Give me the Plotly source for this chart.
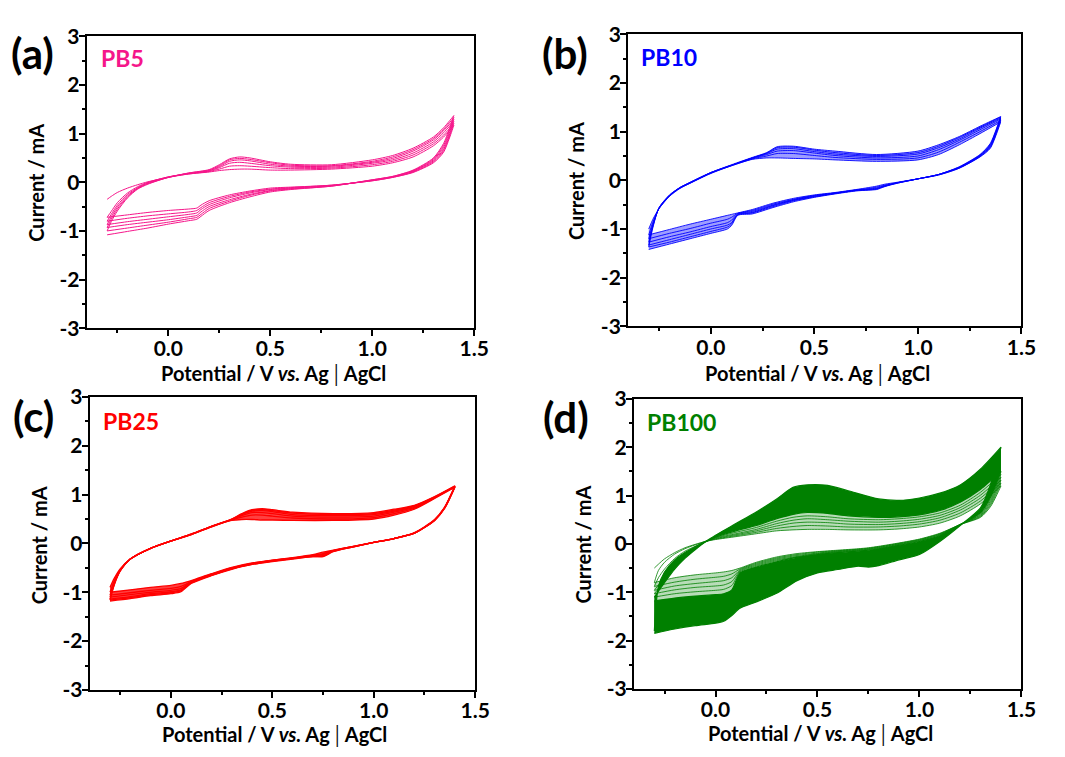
import plotly.graph_objects as go

# ---------------- data ----------------
# Panel (a) PB5
E_an_a = [-0.30,-0.28,-0.25,-0.20,-0.15,-0.10,0.00,0.10,0.20,0.25,0.30,0.35,0.40,0.50,0.60,0.80,1.00,1.10,1.20,1.30,1.35,1.40]
E_ca_a = [1.40,1.35,1.30,1.20,1.10,1.00,0.80,0.60,0.50,0.40,0.30,0.20,0.16,0.14,0.10,0.00,-0.10,-0.20,-0.30]
PB5_anodic = [
    [-0.35,-0.29,-0.21,-0.12,-0.05,0.01,0.10,0.17,0.21,0.24,0.26,0.27,0.27,0.25,0.25,0.27,0.33,0.40,0.52,0.75,0.93,1.17],
    [-0.72,-0.60,-0.42,-0.22,-0.09,0.00,0.11,0.17,0.22,0.27,0.33,0.34,0.33,0.30,0.28,0.29,0.36,0.43,0.56,0.79,0.97,1.21],
    [-0.80,-0.66,-0.47,-0.25,-0.11,-0.01,0.11,0.18,0.23,0.30,0.39,0.41,0.39,0.34,0.31,0.31,0.39,0.46,0.60,0.83,1.02,1.25],
    [-0.87,-0.71,-0.51,-0.28,-0.12,-0.02,0.10,0.18,0.24,0.32,0.43,0.46,0.44,0.37,0.33,0.33,0.41,0.49,0.64,0.87,1.06,1.29],
    [-0.93,-0.76,-0.55,-0.30,-0.13,-0.03,0.10,0.19,0.25,0.34,0.46,0.49,0.47,0.40,0.35,0.34,0.43,0.52,0.67,0.90,1.09,1.33],
    [-1.00,-0.81,-0.59,-0.32,-0.14,-0.04,0.10,0.19,0.26,0.36,0.48,0.52,0.50,0.42,0.37,0.36,0.46,0.55,0.70,0.93,1.12,1.37],
]
PB5_cathodic = [
    [1.17,0.62,0.40,0.20,0.10,0.03,-0.06,-0.10,-0.12,-0.18,-0.26,-0.38,-0.47,-0.53,-0.55,-0.58,-0.62,-0.67,-0.72],
    [1.21,0.65,0.42,0.21,0.10,0.03,-0.06,-0.11,-0.14,-0.20,-0.29,-0.42,-0.52,-0.58,-0.61,-0.65,-0.69,-0.74,-0.80],
    [1.25,0.68,0.44,0.22,0.11,0.04,-0.07,-0.12,-0.15,-0.22,-0.32,-0.46,-0.56,-0.63,-0.66,-0.71,-0.76,-0.81,-0.87],
    [1.29,0.72,0.46,0.23,0.11,0.04,-0.07,-0.13,-0.17,-0.25,-0.36,-0.50,-0.61,-0.68,-0.71,-0.77,-0.82,-0.87,-0.93],
    [1.33,0.76,0.48,0.24,0.12,0.05,-0.08,-0.14,-0.18,-0.27,-0.39,-0.54,-0.66,-0.72,-0.75,-0.82,-0.88,-0.94,-1.00],
    [1.37,0.80,0.50,0.25,0.12,0.05,-0.08,-0.15,-0.20,-0.30,-0.42,-0.58,-0.70,-0.76,-0.79,-0.86,-0.94,-1.01,-1.08],
]

# Panel (b) PB10
E_an_b = [-0.30,-0.28,-0.25,-0.20,-0.15,-0.10,0.00,0.10,0.20,0.27,0.32,0.40,0.50,0.60,0.80,1.00,1.10,1.20,1.30,1.40]
E_ca_b = [1.40,1.35,1.30,1.20,1.10,1.00,0.90,0.84,0.80,0.76,0.70,0.60,0.50,0.40,0.30,0.20,0.13,0.10,0.08,0.00,-0.10,-0.20,-0.30]
PB10_anodic = [
    [-1.00,-0.80,-0.58,-0.33,-0.17,-0.06,0.14,0.30,0.43,0.46,0.46,0.45,0.44,0.42,0.39,0.42,0.53,0.73,0.96,1.20],
    [-1.12,-0.86,-0.58,-0.32,-0.16,-0.06,0.15,0.30,0.44,0.50,0.55,0.55,0.51,0.47,0.43,0.46,0.58,0.78,1.00,1.23],
    [-1.20,-0.90,-0.57,-0.32,-0.16,-0.05,0.15,0.31,0.45,0.53,0.60,0.61,0.56,0.51,0.46,0.50,0.63,0.82,1.04,1.26],
    [-1.27,-0.93,-0.57,-0.31,-0.15,-0.05,0.16,0.31,0.46,0.55,0.64,0.65,0.59,0.54,0.49,0.54,0.67,0.85,1.07,1.28],
    [-1.33,-0.95,-0.56,-0.31,-0.15,-0.04,0.16,0.31,0.46,0.56,0.67,0.68,0.62,0.57,0.51,0.57,0.70,0.88,1.09,1.30],
    [-1.37,-0.97,-0.56,-0.30,-0.15,-0.04,0.16,0.32,0.47,0.57,0.69,0.70,0.64,0.60,0.53,0.60,0.73,0.90,1.11,1.31],
]
PB10_cathodic = [
    [1.20,0.66,0.48,0.25,0.11,0.03,-0.04,-0.08,-0.12,-0.15,-0.19,-0.25,-0.30,-0.37,-0.47,-0.60,-0.67,-0.70,-0.72,-0.80,-0.90,-1.01,-1.12],
    [1.23,0.68,0.49,0.25,0.11,0.03,-0.05,-0.10,-0.14,-0.17,-0.20,-0.26,-0.31,-0.39,-0.49,-0.62,-0.68,-0.76,-0.80,-0.88,-0.99,-1.09,-1.20],
    [1.26,0.70,0.50,0.26,0.12,0.03,-0.05,-0.11,-0.16,-0.18,-0.20,-0.26,-0.32,-0.40,-0.51,-0.64,-0.69,-0.82,-0.87,-0.95,-1.06,-1.16,-1.27],
    [1.28,0.72,0.51,0.27,0.12,0.03,-0.05,-0.12,-0.17,-0.19,-0.21,-0.27,-0.33,-0.41,-0.52,-0.66,-0.70,-0.87,-0.92,-1.00,-1.11,-1.22,-1.33],
    [1.30,0.74,0.52,0.27,0.12,0.03,-0.06,-0.12,-0.18,-0.20,-0.21,-0.27,-0.34,-0.42,-0.54,-0.67,-0.71,-0.90,-0.96,-1.05,-1.16,-1.27,-1.37],
    [1.31,0.76,0.53,0.28,0.12,0.03,-0.06,-0.13,-0.19,-0.20,-0.22,-0.28,-0.35,-0.44,-0.56,-0.69,-0.72,-0.93,-1.00,-1.09,-1.20,-1.31,-1.42],
]

# Panel (c) PB25
E_an_c = [-0.30,-0.28,-0.25,-0.20,-0.10,0.00,0.10,0.20,0.30,0.35,0.40,0.45,0.50,0.60,0.80,1.00,1.10,1.20,1.30,1.40]
E_ca_c = [1.40,1.35,1.30,1.20,1.10,1.00,0.90,0.80,0.75,0.70,0.60,0.50,0.40,0.30,0.20,0.10,0.05,0.00,-0.10,-0.20,-0.30]
PB25_anodic = [
    [-0.90,-0.72,-0.52,-0.32,-0.10,0.05,0.18,0.34,0.47,0.49,0.49,0.48,0.48,0.47,0.47,0.50,0.58,0.70,0.92,1.15],
    [-1.00,-0.78,-0.54,-0.32,-0.10,0.05,0.18,0.34,0.48,0.54,0.58,0.58,0.56,0.52,0.50,0.53,0.61,0.72,0.93,1.16],
    [-1.06,-0.81,-0.55,-0.32,-0.10,0.05,0.18,0.35,0.49,0.57,0.63,0.63,0.61,0.56,0.54,0.56,0.64,0.74,0.94,1.16],
    [-1.10,-0.83,-0.56,-0.32,-0.10,0.05,0.19,0.35,0.49,0.59,0.66,0.67,0.65,0.59,0.57,0.59,0.66,0.76,0.95,1.17],
    [-1.14,-0.85,-0.56,-0.32,-0.10,0.05,0.19,0.35,0.50,0.60,0.68,0.69,0.67,0.62,0.59,0.61,0.68,0.77,0.95,1.17],
    [-1.16,-0.86,-0.57,-0.32,-0.10,0.05,0.19,0.35,0.50,0.61,0.69,0.71,0.69,0.64,0.61,0.63,0.70,0.78,0.96,1.18],
]
PB25_cathodic = [
    [1.15,0.72,0.47,0.21,0.10,0.02,-0.06,-0.14,-0.18,-0.23,-0.29,-0.34,-0.40,-0.49,-0.62,-0.76,-0.82,-0.86,-0.90,-0.95,-1.00],
    [1.16,0.73,0.47,0.21,0.10,0.02,-0.06,-0.15,-0.21,-0.24,-0.30,-0.35,-0.41,-0.50,-0.63,-0.78,-0.88,-0.92,-0.96,-1.01,-1.06],
    [1.16,0.73,0.48,0.21,0.10,0.02,-0.06,-0.15,-0.23,-0.25,-0.30,-0.35,-0.42,-0.51,-0.64,-0.79,-0.92,-0.96,-1.00,-1.05,-1.10],
    [1.17,0.74,0.48,0.21,0.10,0.02,-0.07,-0.16,-0.25,-0.26,-0.31,-0.36,-0.42,-0.52,-0.65,-0.80,-0.95,-0.99,-1.03,-1.09,-1.14],
    [1.17,0.74,0.48,0.21,0.10,0.02,-0.07,-0.16,-0.26,-0.27,-0.31,-0.36,-0.43,-0.52,-0.65,-0.81,-0.97,-1.01,-1.05,-1.11,-1.16],
    [1.18,0.75,0.49,0.22,0.10,0.02,-0.07,-0.17,-0.27,-0.27,-0.32,-0.37,-0.43,-0.53,-0.66,-0.82,-0.99,-1.03,-1.07,-1.13,-1.18],
]

# Panel (d) PB100
E_an_d = [-0.30,-0.28,-0.25,-0.20,-0.15,-0.10,-0.05,0.00,0.10,0.20,0.30,0.38,0.45,0.55,0.65,0.80,0.90,1.00,1.10,1.20,1.30,1.40]
E_ca_d = [1.40,1.35,1.30,1.20,1.10,1.00,0.90,0.80,0.75,0.70,0.60,0.50,0.40,0.30,0.20,0.12,0.08,0.04,0.00,-0.10,-0.20,-0.30]
PB100_anodic = [
    [-0.50,-0.42,-0.31,-0.18,-0.08,-0.01,0.05,0.09,0.15,0.21,0.27,0.29,0.30,0.30,0.29,0.29,0.31,0.35,0.43,0.58,0.83,1.20],
    [-0.80,-0.55,-0.38,-0.21,-0.10,-0.02,0.05,0.10,0.17,0.24,0.32,0.36,0.38,0.37,0.35,0.35,0.37,0.41,0.49,0.64,0.89,1.26],
    [-0.88,-0.70,-0.52,-0.30,-0.15,-0.05,0.05,0.11,0.19,0.27,0.37,0.43,0.45,0.44,0.41,0.40,0.42,0.46,0.54,0.70,0.95,1.32],
    [-0.96,-0.85,-0.68,-0.43,-0.24,-0.09,0.04,0.12,0.21,0.30,0.42,0.49,0.52,0.50,0.47,0.45,0.47,0.51,0.59,0.75,1.01,1.38],
    [-1.03,-0.93,-0.76,-0.48,-0.27,-0.11,0.04,0.13,0.24,0.34,0.47,0.55,0.58,0.56,0.52,0.50,0.52,0.56,0.64,0.80,1.07,1.44],
    [-1.10,-0.98,-0.80,-0.52,-0.30,-0.12,0.04,0.14,0.27,0.38,0.52,0.61,0.65,0.63,0.58,0.55,0.56,0.60,0.69,0.86,1.13,1.50],
    [-1.80,-0.88,-0.58,-0.33,-0.18,-0.06,0.05,0.18,0.42,0.66,0.93,1.17,1.22,1.21,1.10,0.93,0.90,0.95,1.05,1.22,1.55,2.00],
]
PB100_cathodic = [
    [1.20,0.78,0.55,0.40,0.22,0.10,0.02,-0.05,-0.08,-0.10,-0.13,-0.16,-0.20,-0.27,-0.38,-0.50,-0.55,-0.58,-0.60,-0.64,-0.70,-0.80],
    [1.26,0.82,0.57,0.40,0.21,0.09,0.01,-0.06,-0.09,-0.11,-0.14,-0.17,-0.22,-0.29,-0.40,-0.52,-0.62,-0.67,-0.69,-0.73,-0.79,-0.88],
    [1.32,0.86,0.59,0.40,0.20,0.08,0.00,-0.07,-0.10,-0.12,-0.15,-0.19,-0.24,-0.31,-0.42,-0.54,-0.70,-0.76,-0.78,-0.82,-0.87,-0.96],
    [1.38,0.90,0.61,0.40,0.19,0.07,-0.01,-0.08,-0.11,-0.13,-0.16,-0.20,-0.26,-0.33,-0.44,-0.56,-0.78,-0.85,-0.87,-0.90,-0.95,-1.03],
    [1.44,0.94,0.63,0.40,0.18,0.06,-0.02,-0.09,-0.12,-0.14,-0.17,-0.21,-0.27,-0.35,-0.46,-0.58,-0.86,-0.94,-0.96,-0.99,-1.03,-1.10],
    [1.50,0.98,0.65,0.40,0.17,0.05,-0.03,-0.10,-0.13,-0.15,-0.18,-0.22,-0.28,-0.37,-0.48,-0.60,-0.95,-1.03,-1.05,-1.08,-1.12,-1.18],
    [2.00,1.25,0.75,0.38,0.05,-0.22,-0.33,-0.45,-0.48,-0.46,-0.53,-0.60,-0.76,-1.02,-1.20,-1.33,-1.48,-1.60,-1.64,-1.69,-1.76,-1.85],
]

panel_names = ["PB5", "PB10", "PB25", "PB100"]
panel_letters = ["(a)", "(b)", "(c)", "(d)"]
panel_colors = ["#F5168A", "#0000FF", "#FF0000", "#008000"]
x_ticks = [0.0, 0.5, 1.0, 1.5]
x_ticktext = ["0.0", "0.5", "1.0", "1.5"]
x_minor = [-0.25, 0.25, 0.75, 1.25]
y_ticks = [-3, -2, -1, 0, 1, 2, 3]
y_ticktext = ["-3", "-2", "-1", "0", "1", "2", "3"]
y_minor = [-2.5, -1.5, -0.5, 0.5, 1.5, 2.5]

# ---------------- figure ----------------
FONT = "Lato, 'Open Sans', sans-serif"
SMOOTH = 0.7
fig = go.Figure()

def fill_band(ax, E, upper, lower, color):
    fig.add_trace(go.Scatter(x=E, y=upper, mode="lines", xaxis="x" + ax, yaxis="y" + ax,
                             line=dict(width=0, color=color, shape="spline", smoothing=SMOOTH),
                             hoverinfo="skip", showlegend=False))
    fig.add_trace(go.Scatter(x=E, y=lower, mode="lines", xaxis="x" + ax, yaxis="y" + ax,
                             line=dict(width=0, color=color, shape="spline", smoothing=SMOOTH),
                             fill="tonexty", fillcolor=color, hoverinfo="skip", showlegend=False))

def add_cycles(ax, Ea, Ec, an, ca, color, widths):
    for k in range(len(an)):
        fig.add_trace(go.Scatter(x=Ea + Ec, y=an[k] + ca[k], mode="lines",
                                 xaxis="x" + ax, yaxis="y" + ax,
                                 line=dict(width=widths[k], color=color, shape="spline", smoothing=SMOOTH),
                                 showlegend=False))

# (a)
add_cycles("", E_an_a, E_ca_a, PB5_anodic, PB5_cathodic, panel_colors[0], [1.0] * 6)
# (b)
fill_band("2", E_an_b, PB10_anodic[5], PB10_anodic[0], "rgba(0,0,255,0.38)")
fill_band("2", E_ca_b, PB10_cathodic[5], PB10_cathodic[0], "rgba(0,0,255,0.38)")
add_cycles("2", E_an_b, E_ca_b, PB10_anodic, PB10_cathodic, panel_colors[1], [0.9] * 6)
# (c)
fill_band("3", E_an_c, PB25_anodic[5], PB25_anodic[0], "rgba(255,0,0,0.75)")
fill_band("3", E_ca_c, PB25_cathodic[5], PB25_cathodic[0], "rgba(255,0,0,0.75)")
add_cycles("3", E_an_c, E_ca_c, PB25_anodic, PB25_cathodic, panel_colors[2], [1.3] * 6)
# (d): light band for the sparse early cycles, solid band for the dense later cycles
fill_band("4", E_an_d[7:], PB100_anodic[5][7:], PB100_anodic[0][7:], "rgba(0,128,0,0.28)")
fill_band("4", E_ca_d, PB100_cathodic[5], PB100_cathodic[0], "rgba(0,128,0,0.28)")
fill_band("4", E_an_d, PB100_anodic[6], PB100_anodic[5], panel_colors[3])
fill_band("4", E_ca_d, PB100_cathodic[6], PB100_cathodic[5], panel_colors[3])
add_cycles("4", E_an_d, E_ca_d, PB100_anodic, PB100_cathodic, panel_colors[3],
           [0.8, 0.8, 0.8, 0.8, 0.8, 1.2, 1.2])

W, H = 1065, 757
# plot-area rectangles in pixels (left, right, top, bottom)
boxes = [(88, 481, 23, 325), (637, 1036, 21, 323), (91, 482, 396, 699), (643, 1036, 398, 698)]

def xaxis_cfg(l, r, anchor):
    return dict(domain=[l / W, r / W], anchor=anchor, range=[-0.4, 1.5],
                tickvals=x_ticks, ticktext=x_ticktext, ticks="outside", ticklen=6, tickwidth=2,
                ticklabelstandoff=-5,
                minor=dict(tickvals=x_minor, ticks="outside", ticklen=3, tickwidth=1.5, tickcolor="black"),
                showline=True, linewidth=2, linecolor="black", mirror=True,
                showgrid=False, zeroline=False, tickcolor="black",
                tickfont=dict(family=FONT, size=21, color="black", weight="bold"))

def yaxis_cfg(t, b, anchor):
    return dict(domain=[1 - b / H, 1 - t / H], anchor=anchor, range=[-3, 3],
                tickvals=y_ticks, ticktext=y_ticktext, ticks="outside", ticklen=6, tickwidth=2,
                ticklabelstandoff=-5,
                minor=dict(tickvals=y_minor, ticks="outside", ticklen=3, tickwidth=1.5, tickcolor="black"),
                showline=True, linewidth=2, linecolor="black", mirror=True,
                showgrid=False, zeroline=False, tickcolor="black",
                tickfont=dict(family=FONT, size=21, color="black", weight="bold"))

layout = dict(width=W, height=H, margin=dict(l=0, r=0, t=0, b=0),
              paper_bgcolor="white", plot_bgcolor="white", showlegend=False)
suffix = ["", "2", "3", "4"]
for i, (l, r, t, b) in enumerate(boxes):
    s = suffix[i]
    layout["xaxis" + s] = xaxis_cfg(l, r, "y" + s)
    layout["yaxis" + s] = yaxis_cfg(t, b, "x" + s)
fig.update_layout(**layout)

# text positions in pixels
letter_pos = [(33, 40), (573, 40), (34, 416), (574, 417)]
name_pos = [(100, 46), (648, 44), (102, 421), (654, 422)]
xtitle_pos = [(277, 372), (829, 372), (278, 745), (832, 744)]
ytitle_pos = [(37, 174), (585, 173), (39, 549), (591, 549)]

annotations = []
for i in range(4):
    annotations.append(dict(text="<b>" + panel_letters[i] + "</b>", x=letter_pos[i][0] / W, y=1 - letter_pos[i][1] / H,
                            xref="paper", yref="paper", showarrow=False, xanchor="center", yanchor="middle",
                            font=dict(family=FONT, size=42, color="black")))
    annotations.append(dict(text="<b>" + panel_names[i] + "</b>", x=name_pos[i][0] / W, y=1 - name_pos[i][1] / H,
                            xref="paper", yref="paper", showarrow=False, xanchor="left", yanchor="middle",
                            font=dict(family=FONT, size=23, color=panel_colors[i])))
    annotations.append(dict(text="<b>Potential / V <i>vs.</i> Ag</b>│<b>AgCl</b>",
                            x=xtitle_pos[i][0] / W, y=1 - xtitle_pos[i][1] / H,
                            xref="paper", yref="paper", showarrow=False, xanchor="center", yanchor="middle",
                            font=dict(family=FONT, size=20, color="black")))
    annotations.append(dict(text="<b>Current / mA</b>", x=ytitle_pos[i][0] / W, y=1 - ytitle_pos[i][1] / H,
                            xref="paper", yref="paper", showarrow=False, xanchor="center", yanchor="middle",
                            textangle=-90, font=dict(family=FONT, size=20, color="black")))
fig.update_layout(annotations=annotations)

fig.write_html("out.html", config={"displayModeBar": False},
               post_script="document.body.style.margin='0px';")
